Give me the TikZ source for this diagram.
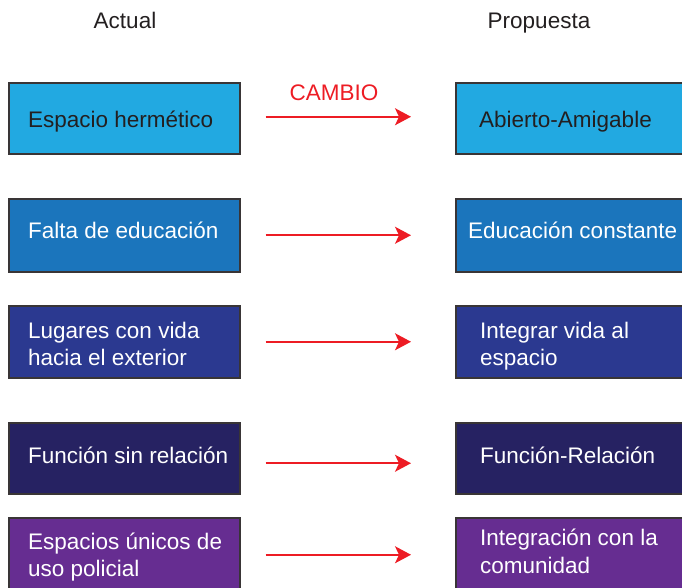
\documentclass[tikz,border=0pt]{standalone}
\usepackage{fontspec}
\setmainfont{Liberation Sans}
\usetikzlibrary{arrows.meta}
\definecolor{cA}{HTML}{22A9E1}
\definecolor{cB}{HTML}{1B75BC}
\definecolor{cC}{HTML}{2B3990}
\definecolor{cD}{HTML}{262262}
\definecolor{cE}{HTML}{662D91}
\definecolor{ink}{HTML}{231F20}
\definecolor{redc}{HTML}{ED1C24}
\tikzset{
  box/.style={draw=ink!90, line width=1.5pt, rectangle, inner sep=0pt, minimum width=231pt, anchor=north west},
  rbox/.style={box, minimum width=250pt},
  txt/.style={inner sep=0pt, anchor=base west, font=\fontsize{22.5}{27}\selectfont},
  wtxt/.style={txt, text=white},
  dtxt/.style={txt, text=ink},
  head/.style={inner sep=0pt, anchor=base, text=ink, font=\fontsize{22.5}{27}\selectfont},
  arr/.style={draw=redc, line width=1.6pt, -{Stealth[length=16pt,width=17pt,inset=4pt]}, shorten <=25pt, shorten >=44pt}
}
\begin{document}
\begin{tikzpicture}[x=1pt,y=-1pt]
\useasboundingbox (0,0) rectangle (682,587);
\clip (0,0) rectangle (682,587);
% headers
\node[head] (hA) at (125,28) {Actual};
\node[head] (hP) at (539,28) {Propuesta};
% left boxes
\node[box, fill=cA, minimum height=71pt] (l1) at (8,82) {};
\node[box, fill=cB, minimum height=73pt] (l2) at (8,198) {};
\node[box, fill=cC, minimum height=72pt] (l3) at (8,305) {};
\node[box, fill=cD, minimum height=71pt] (l4) at (8,422) {};
\node[box, fill=cE, minimum height=72pt] (l5) at (8,517) {};
% right boxes (cut by the right edge)
\node[rbox, fill=cA, minimum height=71pt] (r1) at (455,82) {};
\node[rbox, fill=cB, minimum height=73pt] (r2) at (455,198) {};
\node[rbox, fill=cC, minimum height=72pt] (r3) at (455,305) {};
\node[rbox, fill=cD, minimum height=71pt] (r4) at (455,422) {};
\node[rbox, fill=cE, minimum height=72pt] (r5) at (455,517) {};
% left texts
\node[dtxt] (tl1) at (28,127) {Espacio hermético};
\node[wtxt] (tl2) at (28,238) {Falta de educación};
\node[wtxt] (tl3a) at (28,338) {Lugares con vida};
\node[wtxt] (tl3b) at (28,365) {hacia el exterior};
\node[wtxt] (tl4) at (28,463) {Función sin relación};
\node[wtxt] (tl5a) at (28,549) {Espacios únicos de};
\node[wtxt] (tl5b) at (28,576) {uso policial};
% right texts
\node[dtxt] (tr1) at (479,127) {Abierto-Amigable};
\node[wtxt] (tr2) at (468,238) {Educación constante};
\node[wtxt] (tr3a) at (480,338) {Integrar vida al};
\node[wtxt] (tr3b) at (480,365) {espacio};
\node[wtxt] (tr4) at (480,463) {Función-Relación};
\node[wtxt] (tr5a) at (480,545) {Integración con la};
\node[wtxt] (tr5b) at (480,573) {comunidad};
% arrows
\node[head, text=redc] (cambio) at (334,100) {CAMBIO};
\draw[arr] ([yshift=1.5pt]l1.east) -- ([yshift=1.5pt]r1.west);
\draw[arr] ([yshift=0pt]l2.east) -- ([yshift=0pt]r2.west);
\draw[arr] ([yshift=0pt]l3.east) -- ([yshift=0pt]r3.west);
\draw[arr] ([yshift=-5pt]l4.east) -- ([yshift=-5pt]r4.west);
\draw[arr] ([yshift=-1pt]l5.east) -- ([yshift=-1pt]r5.west);
\end{tikzpicture}
\end{document}
